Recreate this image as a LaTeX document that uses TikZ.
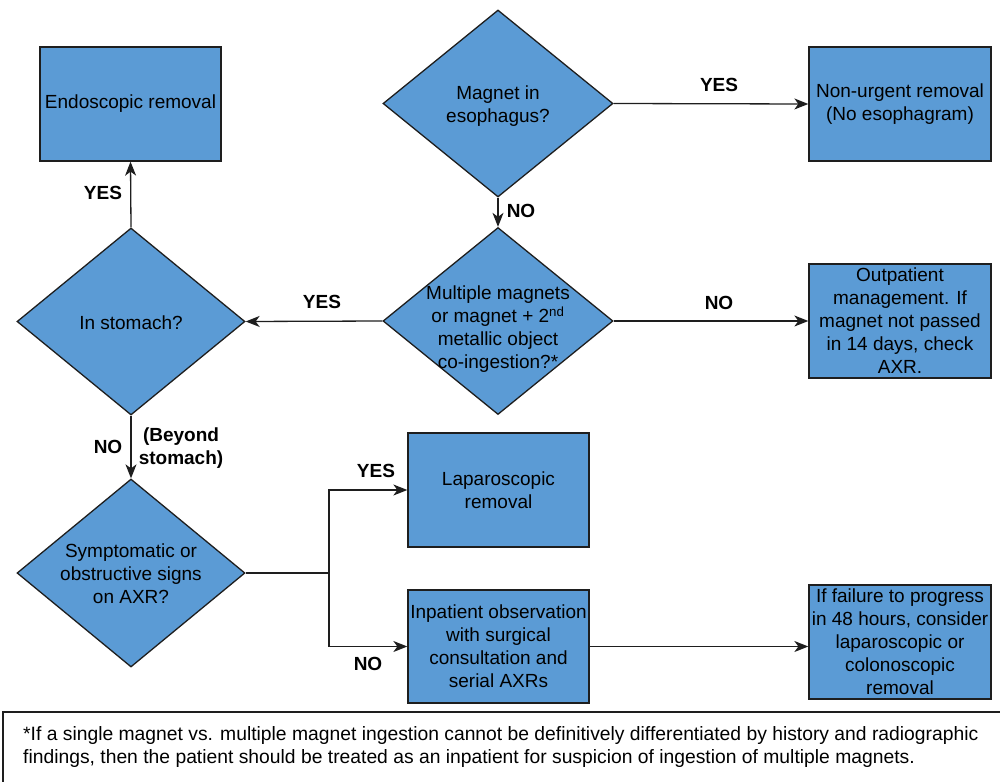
\documentclass[tikz,border=0pt]{standalone}
\usepackage{fontspec}
\setmainfont{Liberation Sans}
\usetikzlibrary{arrows.meta,shapes.geometric}
\definecolor{boxblue}{RGB}{91,155,213}
\definecolor{edge}{RGB}{30,30,30}
\tikzset{
  txt/.style={font=\fontsize{19}{23}\selectfont, align=center, text=black, inner sep=0pt},
  procbox/.style={rectangle, draw=edge, line width=1.3pt, fill=boxblue, inner sep=0pt, txt},
  decision/.style={diamond, draw=edge, line width=1.3pt, fill=boxblue, inner sep=0pt, shape aspect=1},
  lbl/.style={font=\bfseries\fontsize{19}{23}\selectfont, align=center, inner sep=0pt},
  arr/.style={draw=edge, line width=1.3pt, -{Stealth[length=14pt,width=11pt,inset=4pt]}},
  conn/.style={draw=edge, line width=1.3pt},
}
\begin{document}
\begin{tikzpicture}[x=1pt,y=-1pt]
\useasboundingbox (0,0) rectangle (1000,781);
% process boxes
\node[procbox, minimum width=181pt, minimum height=114pt] (endo) at (130.5,104) {Endoscopic removal};
\node[procbox, minimum width=182pt, minimum height=114pt] (nonurg) at (900,104) {Non-urgent removal\\(No esophagram)};
\node[procbox, minimum width=182pt, minimum height=114pt] (outp) at (900,321) {Outpatient\\management. If\\magnet not passed\\in 14 days, check\\AXR.};
\node[procbox, minimum width=181pt, minimum height=114pt] (lap) at (498.5,490) {Laparoscopic\\removal};
\node[procbox, minimum width=181pt, minimum height=113pt] (inpat) at (498.5,646.5) {Inpatient observation\\with surgical\\consultation and\\serial AXRs};
\node[procbox, minimum width=182pt, minimum height=114pt] (fail) at (900,642) {If failure to progress\\in 48 hours, consider\\laparoscopic or\\colonoscopic\\removal};
% decisions
\node[decision, minimum width=230pt, minimum height=187pt] (d1) at (498,103.5) {};
\node[txt] (d1t) at (498,106) {Magnet in\\esophagus?};
\node[decision, minimum width=230pt, minimum height=187pt] (d2) at (498,321) {};
\node[txt] (d2t) at (498,329) {Multiple magnets\\or magnet + 2\textsuperscript{nd}\\metallic object\\co-ingestion?*};
\node[decision, minimum width=228pt, minimum height=187pt] (ds) at (131,321.5) {};
\node[txt] (dst) at (131,323) {In stomach?};
\node[decision, minimum width=228pt, minimum height=188pt] (d3) at (131,573) {};
\node[txt] (d3t) at (131,574) {Symptomatic or\\obstructive signs\\on AXR?};
% connectors
\draw[arr] (d1.east) -- (nonurg.west);
\draw[arr] (d1.south) -- (d2.north);
\draw[arr] (d2.west) -- (ds.east);
\draw[arr] (d2.east) -- (outp.west);
\draw[arr] (ds.north) -- (endo.south);
\draw[arr] (ds.south) -- (d3.north);
\coordinate (j) at (329,573);
\draw[conn] (d3.east) -- (j);
\draw[arr] (j) |- (lap.west);
\draw[arr] (j) |- (inpat.west);
\draw[arr] (inpat.east) -- (inpat.east -| fail.west);
% labels
\node[lbl] (l1) at (719,85) {YES};
\node[lbl] (l2) at (521,211) {NO};
\node[lbl] (l3) at (322,302) {YES};
\node[lbl] (l4) at (719,303) {NO};
\node[lbl] (l5) at (103,193) {YES};
\node[lbl] (l6) at (108,447) {NO};
\node[lbl] (l7) at (181,448) {(Beyond\\stomach)};
\node[lbl] (l8) at (376,471) {YES};
\node[lbl] (l9) at (368,664) {NO};
% footnote
\draw[conn] (3,790) -- (3,712) -- (1010,712);
\node[font=\fontsize{19.3}{22.3}\selectfont, align=left, anchor=west, inner sep=0pt] (fn) at (23,747) {*If a single magnet vs. multiple magnet ingestion cannot be definitively differentiated by history and radiographic\\findings, then the patient should be treated as an inpatient for suspicion of ingestion of multiple magnets.};
\end{tikzpicture}
\end{document}
